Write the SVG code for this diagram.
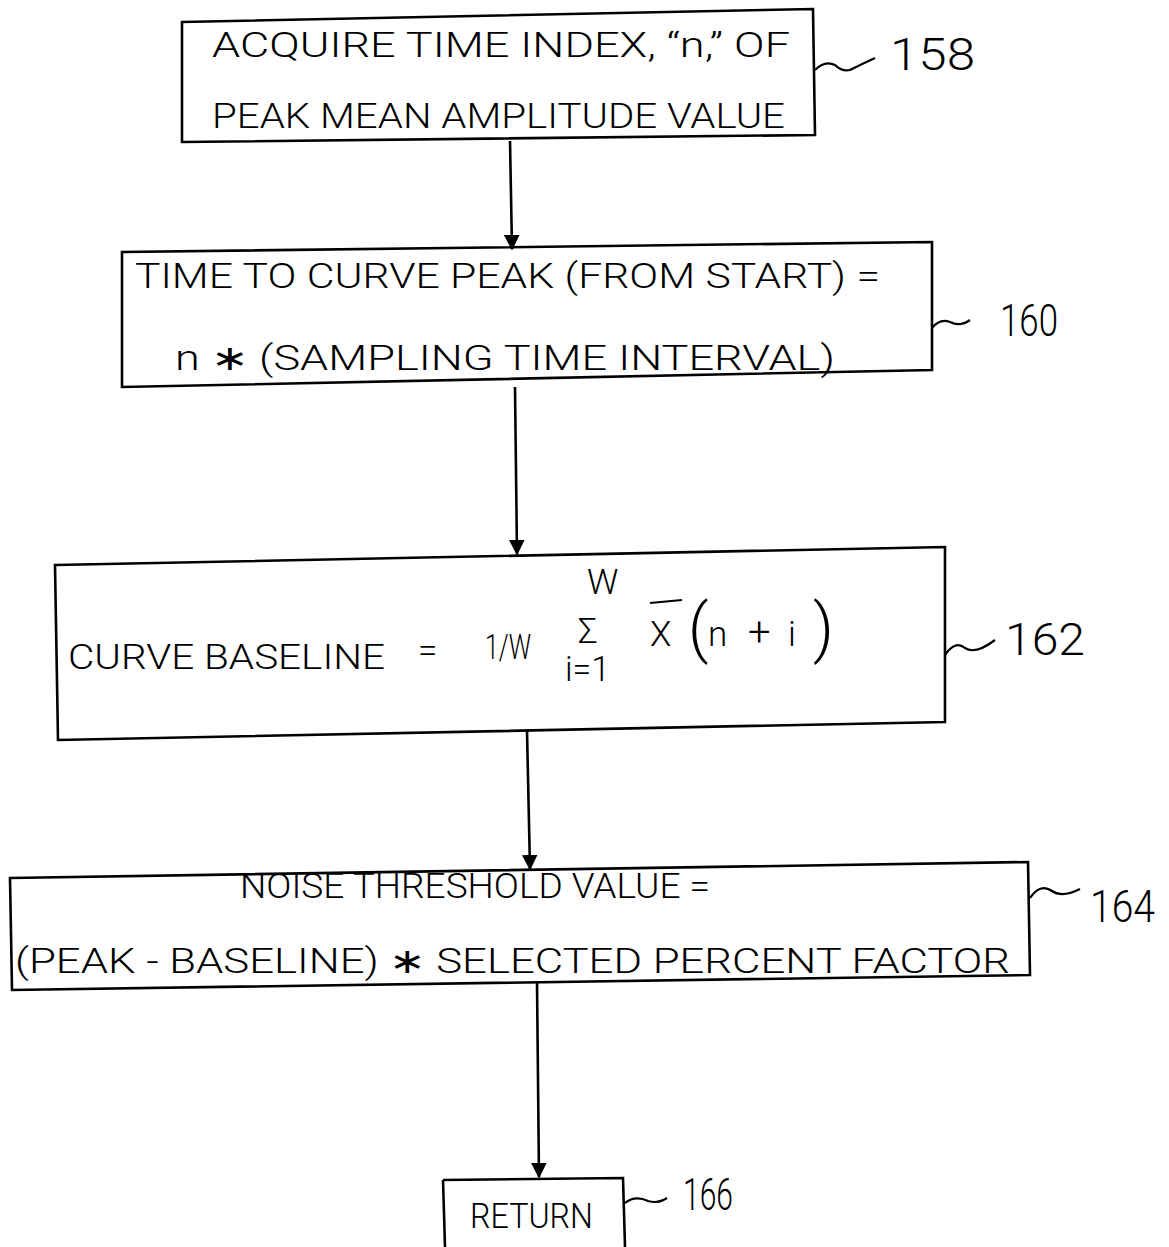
<svg xmlns="http://www.w3.org/2000/svg" width="1169" height="1247" viewBox="0 0 1169 1247">
<defs>
<marker id="ah" viewBox="0 0 10 10" refX="9" refY="5" markerWidth="6" markerHeight="6" orient="auto-start-reverse"><path d="M0,0 L10,5 L0,10 z" fill="#000"/></marker>
<style>
.box{fill:none;stroke:#000;stroke-width:2.6;stroke-linejoin:miter}
.t{font-family:"Roboto","Liberation Sans",Arial,sans-serif;font-weight:300;font-size:35px;fill:#000}
.lbl{font-family:"Roboto","Liberation Sans",Arial,sans-serif;font-weight:300;font-size:44px;fill:#000}
.lead{fill:none;stroke:#000;stroke-width:2.2}
.conn{fill:none;stroke:#000;stroke-width:2.6}
</style>
</defs>
<rect width="1169" height="1247" fill="#fff"/>
<g id="connectors">
<line class="conn" x1="510" y1="141" x2="512" y2="249" marker-end="url(#ah)"/>
<line class="conn" x1="515" y1="387" x2="517" y2="554" marker-end="url(#ah)"/>
<line class="conn" x1="527" y1="731" x2="530" y2="869" marker-end="url(#ah)"/>
<line class="conn" x1="537" y1="982" x2="539" y2="1177" marker-end="url(#ah)"/>
</g>
<g id="node158">
<path class="box" d="M182,22 L813,9 L815,135 L182,142 Z"/>
<text class="t" x="212" y="57" textLength="578" lengthAdjust="spacingAndGlyphs">ACQUIRE  TIME INDEX, “n,” OF</text>
<text class="t" x="212" y="128" font-size="38" textLength="573" lengthAdjust="spacingAndGlyphs">PEAK MEAN AMPLITUDE  VALUE</text>
<path class="lead" d="M815,70 Q825,60 835,65 Q842,72 850,70 Q862,64 875,58"/>
<text class="lbl" x="890" y="70" font-size="54" textLength="85" lengthAdjust="spacingAndGlyphs">158</text>
</g>
<g id="node160">
<path class="box" d="M122,252 L932,242 L932,370 L122,387 Z"/>
<text class="t" x="135" y="288" textLength="745" lengthAdjust="spacingAndGlyphs">TIME TO CURVE PEAK (FROM START) =</text>
<text class="t" x="175" y="370" font-size="42" textLength="660" lengthAdjust="spacingAndGlyphs">n ∗ (SAMPLING TIME INTERVAL)</text>
<path class="lead" d="M932,328 Q940,318 950,322 Q960,327 970,320"/>
<text class="lbl" x="1000" y="336" textLength="58" lengthAdjust="spacingAndGlyphs">160</text>
</g>
<g id="node162">
<path class="box" d="M55,565 L945,547 L945,722 L58,740 Z"/>
<text class="t" x="68" y="669" font-size="50" textLength="317" lengthAdjust="spacingAndGlyphs">CURVE BASELINE</text>
<text class="t" x="418" y="662" font-size="42">=</text>
<text class="t" x="485" y="659" font-size="50" textLength="46" lengthAdjust="spacingAndGlyphs">1/W</text>
<text class="t" x="578" y="643" font-size="30">Σ</text>
<text class="t" x="587" y="594" font-size="22">W</text>
<text class="t" x="565" y="681" font-size="18" textLength="45" lengthAdjust="spacingAndGlyphs">i=1</text>
<line class="lead" x1="650" y1="603" x2="682" y2="600"/>
<text class="t" font-size="48"><tspan x="650" y="646">X</tspan><tspan x="688" y="650" font-size="64">(</tspan><tspan x="708" y="646">n</tspan><tspan x="748" y="646" font-size="40">+</tspan><tspan x="788" y="646">i</tspan><tspan x="813" y="650" font-size="64">)</tspan></text>
<path class="lead" d="M945,655 Q955,640 965,648 Q975,655 995,640"/>
<text class="lbl" x="1005" y="655" textLength="80" lengthAdjust="spacingAndGlyphs">162</text>
</g>
<g id="node164">
<path class="box" d="M10,878 L1028,862 L1030,975 L12,990 Z"/>
<text class="t" x="240" y="898" font-size="30" textLength="470" lengthAdjust="spacingAndGlyphs">NOISE THRESHOLD VALUE =</text>
<text class="t" x="15" y="973" font-size="38" textLength="995" lengthAdjust="spacingAndGlyphs">(PEAK - BASELINE) ∗ SELECTED  PERCENT  FACTOR</text>
<path class="lead" d="M1030,898 Q1040,883 1052,891 Q1062,898 1080,889"/>
<text class="lbl" x="1090" y="922" textLength="65" lengthAdjust="spacingAndGlyphs">164</text>
</g>
<g id="node166">
<path class="box" d="M443,1180 L623,1178 L625,1247 M443,1180 L445,1247"/>
<text class="t" x="470" y="1228" font-size="34" textLength="123" lengthAdjust="spacingAndGlyphs">RETURN</text>
<path class="lead" d="M625,1203 Q635,1195 648,1201 Q658,1204 667,1198"/>
<text class="lbl" x="683" y="1210" font-size="48" textLength="50" lengthAdjust="spacingAndGlyphs">166</text>
</g>
</svg>
